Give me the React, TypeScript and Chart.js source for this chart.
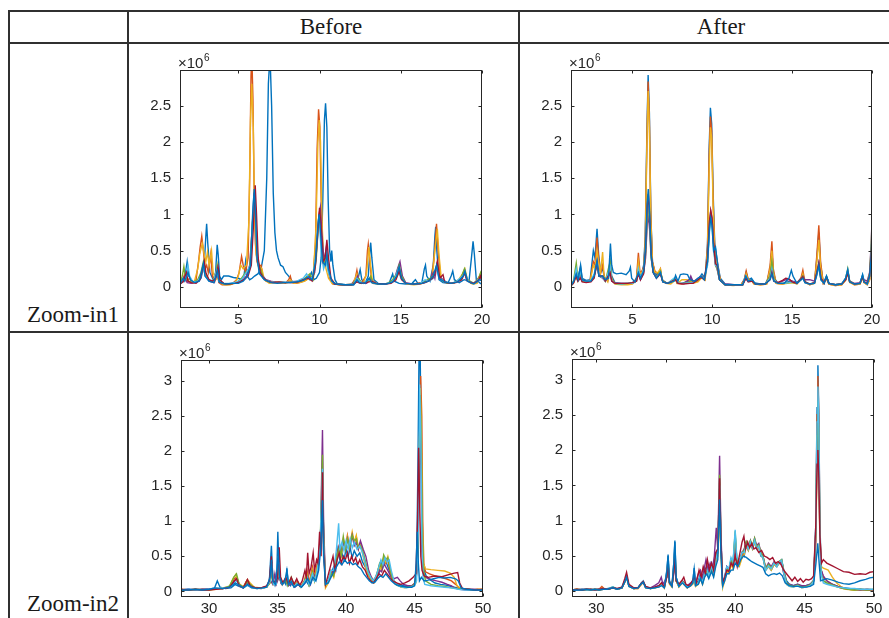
import { useEffect, useRef } from 'react';
import { Chart, registerables } from 'chart.js';

Chart.register(...registerables);

type Pt = [number, number];

// Chromatogram traces, intensity in units of 10^6, x in minutes.
// Series order per panel: blue, orange, yellow, purple, green, light blue, dark red, blue.

// ---------- Zoom-in1, Before ----------
const B1_BLUE: Pt[] = [[1.4,.03],[1.5,.1],[1.6,.08],[1.75,.2],[1.85,.35],[1.95,.15],[2.2,.06],[2.5,.08],[2.7,.12],[2.9,.3],[3.0,.7],[3.05,.87],[3.12,.6],[3.25,.2],[3.45,.1],[3.6,.2],[3.7,.58],[3.76,.45],[3.85,.15],[3.95,.1],[4.1,.15],[4.4,.15],[4.7,.13],[5.0,.12],[5.2,.1],[5.35,.15],[5.45,.35],[5.55,.15],[5.7,.1],[5.85,.12],[6.0,.15],[6.2,.18],[6.4,.25],[6.6,.5],[6.75,1.5],[6.85,2.8],[6.95,3.2],[7.05,2.5],[7.15,1.3],[7.25,.75],[7.35,.5],[7.45,.4],[7.6,.3],[7.75,.28],[7.9,.2],[8.1,.15],[8.3,.08],[8.6,.06],[9.0,.08],[9.2,.12],[9.4,.15],[9.5,.2],[9.65,.1],[9.8,.12],[10.0,.2],[10.1,.4],[10.2,1.2],[10.3,2.3],[10.37,2.53],[10.45,2.2],[10.53,1.2],[10.62,.5],[10.7,.35],[10.75,.5],[10.82,.3],[10.95,.1],[11.1,.04],[11.6,.03],[12.1,.03],[12.35,.1],[12.5,.24],[12.6,.1],[12.8,.05],[13.0,.15],[13.1,.5],[13.15,.61],[13.22,.4],[13.35,.1],[13.6,.05],[14.0,.04],[14.3,.06],[14.5,.18],[14.6,.08],[14.9,.05],[15.3,.04],[15.7,.05],[15.9,.1],[16.05,.05],[16.3,.06],[16.45,.25],[16.52,.3],[16.6,.15],[16.8,.08],[17.0,.3],[17.1,.7],[17.15,.83],[17.22,.5],[17.35,.1],[17.6,.06],[17.9,.05],[18.1,.15],[18.2,.22],[18.3,.1],[18.6,.06],[18.9,.1],[19.2,.08],[19.35,.4],[19.45,.63],[19.53,.45],[19.65,.1],[19.9,.05],[20.0,.04]];
const B1_ORANGE: Pt[] = [[1.4,.04],[1.6,.1],[1.7,.18],[1.8,.08],[2.0,.12],[2.2,.06],[2.4,.1],[2.55,.35],[2.65,.55],[2.75,.7],[2.85,.5],[2.95,.25],[3.05,.3],[3.15,.2],[3.3,.45],[3.4,.15],[3.55,.08],[3.7,.2],[3.8,.06],[4.0,.03],[4.3,.03],[4.6,.04],[4.9,.1],[5.05,.2],[5.2,.42],[5.3,.3],[5.45,.2],[5.6,.4],[5.7,1.5],[5.78,2.9],[5.83,3.2],[5.9,2.6],[5.98,1.2],[6.05,.6],[6.15,.35],[6.25,.28],[6.4,.3],[6.5,.15],[6.7,.08],[7.0,.06],[7.3,.07],[7.6,.06],[7.9,.05],[8.1,.1],[8.2,.15],[8.3,.06],[8.6,.05],[8.9,.07],[9.2,.1],[9.4,.15],[9.6,.12],[9.75,.6],[9.85,1.9],[9.94,2.45],[10.02,2.2],[10.1,1.2],[10.2,.5],[10.3,.3],[10.45,.35],[10.6,.15],[10.8,.05],[11.2,.03],[11.6,.03],[12.0,.04],[12.2,.12],[12.3,.23],[12.4,.1],[12.6,.06],[12.85,.15],[12.95,.5],[13.0,.59],[13.08,.4],[13.2,.1],[13.5,.05],[13.8,.04],[14.2,.05],[14.5,.08],[14.7,.15],[14.9,.25],[15.05,.12],[15.3,.05],[15.7,.04],[16.0,.05],[16.3,.06],[16.6,.08],[16.9,.12],[17.05,.4],[17.2,.87],[17.3,.5],[17.45,.12],[17.7,.08],[18.0,.05],[18.3,.06],[18.6,.1],[18.9,.2],[19.05,.12],[19.3,.05],[19.6,.06],[19.85,.15],[20.0,.1]];
const B1_YELLOW: Pt[] = [[1.4,.05],[1.65,.12],[1.8,.1],[2.0,.07],[2.3,.08],[2.5,.25],[2.62,.45],[2.78,.6],[2.9,.45],[3.0,.35],[3.1,.48],[3.2,.3],[3.35,.5],[3.45,.2],[3.6,.1],[3.75,.12],[3.9,.05],[4.2,.03],[4.5,.03],[4.8,.06],[5.0,.15],[5.15,.3],[5.3,.25],[5.5,.3],[5.65,.9],[5.75,2.3],[5.83,2.8],[5.92,2.2],[6.0,1.0],[6.1,.45],[6.25,.3],[6.45,.25],[6.6,.1],[6.9,.05],[7.2,.06],[7.6,.05],[8.0,.06],[8.2,.1],[8.4,.05],[8.8,.06],[9.1,.08],[9.35,.12],[9.6,.1],[9.78,.8],[9.9,2.0],[9.98,2.3],[10.06,2.0],[10.15,.9],[10.25,.4],[10.4,.25],[10.55,.12],[10.8,.04],[11.3,.03],[11.8,.03],[12.1,.06],[12.3,.18],[12.45,.08],[12.7,.05],[12.9,.2],[13.03,.55],[13.12,.35],[13.25,.08],[13.6,.04],[14.0,.04],[14.4,.06],[14.7,.12],[14.9,.2],[15.1,.1],[15.4,.04],[15.8,.03],[16.2,.04],[16.6,.07],[16.95,.15],[17.1,.5],[17.25,.8],[17.35,.45],[17.5,.1],[17.8,.06],[18.2,.05],[18.5,.08],[18.8,.18],[18.95,.25],[19.1,.1],[19.4,.04],[19.7,.05],[19.9,.18],[20.0,.12]];
const B1_PURPLE: Pt[] = [[1.4,.03],[1.55,.08],[1.7,.15],[1.85,.06],[2.1,.05],[2.4,.07],[2.6,.12],[2.9,.3],[3.0,.15],[3.2,.08],[3.5,.06],[3.7,.18],[3.85,.06],[4.2,.04],[4.6,.05],[5.0,.06],[5.3,.1],[5.5,.15],[5.7,.3],[5.85,.8],[5.97,1.3],[6.05,1.1],[6.15,.5],[6.3,.2],[6.5,.15],[6.7,.1],[7.0,.08],[7.4,.06],[7.8,.06],[8.2,.07],[8.6,.08],[9.0,.1],[9.3,.15],[9.5,.12],[9.7,.2],[9.85,.6],[9.97,1.0],[10.05,1.1],[10.15,.7],[10.28,.35],[10.42,.55],[10.5,.35],[10.65,.12],[10.9,.04],[11.4,.03],[11.9,.03],[12.2,.08],[12.35,.15],[12.5,.06],[12.9,.05],[13.1,.12],[13.3,.05],[13.8,.04],[14.3,.05],[14.6,.1],[14.8,.25],[14.95,.35],[15.1,.15],[15.3,.06],[15.7,.04],[16.1,.04],[16.5,.06],[16.8,.1],[17.0,.2],[17.1,.12],[17.22,.3],[17.35,.15],[17.6,.1],[17.9,.05],[18.3,.06],[18.7,.1],[18.9,.22],[19.05,.1],[19.4,.05],[19.75,.08],[19.9,.15],[20.0,.08]];
const B1_GREEN: Pt[] = [[1.4,.04],[1.55,.15],[1.65,.28],[1.75,.12],[1.95,.08],[2.2,.06],[2.5,.1],[2.7,.2],[2.85,.35],[2.98,.2],[3.15,.1],[3.4,.08],[3.6,.15],[3.7,.3],[3.8,.1],[4.1,.04],[4.5,.04],[4.9,.06],[5.2,.12],[5.45,.2],[5.7,.25],[5.88,.9],[5.99,1.2],[6.08,.9],[6.2,.35],[6.35,.25],[6.55,.12],[6.8,.08],[7.2,.06],[7.6,.07],[8.0,.06],[8.4,.07],[8.8,.08],[9.1,.12],[9.4,.18],[9.6,.1],[9.8,.4],[9.95,.95],[10.02,1.0],[10.12,.6],[10.25,.3],[10.4,.45],[10.5,.3],[10.7,.1],[11.0,.04],[11.5,.03],[12.0,.03],[12.25,.1],[12.4,.12],[12.6,.05],[13.0,.08],[13.15,.15],[13.3,.05],[13.7,.04],[14.2,.05],[14.5,.1],[14.75,.18],[14.9,.3],[15.05,.15],[15.3,.05],[15.8,.04],[16.2,.05],[16.5,.08],[16.8,.12],[17.0,.15],[17.25,.3],[17.4,.12],[17.6,.08],[17.9,.05],[18.3,.06],[18.7,.12],[18.92,.25],[19.1,.1],[19.5,.05],[19.8,.12],[19.92,.2],[20.0,.15]];
const B1_LBLUE: Pt[] = [[1.4,.05],[1.6,.1],[1.75,.12],[1.9,.3],[2.0,.15],[2.2,.07],[2.5,.08],[2.7,.15],[2.85,.3],[2.95,.15],[3.2,.08],[3.5,.1],[3.7,.25],[3.8,.08],[4.1,.05],[4.5,.05],[4.9,.07],[5.2,.1],[5.5,.2],[5.75,.3],[5.88,.9],[5.95,1.25],[6.05,1.0],[6.15,.45],[6.3,.2],[6.6,.1],[7.0,.07],[7.4,.06],[7.8,.07],[8.2,.06],[8.6,.08],[9.0,.12],[9.2,.18],[9.4,.1],[9.6,.15],[9.8,.5],[9.92,.9],[10.0,.85],[10.1,.5],[10.25,.25],[10.4,.35],[10.55,.2],[10.75,.08],[11.0,.04],[11.6,.03],[12.1,.04],[12.3,.12],[12.45,.08],[12.7,.05],[13.0,.1],[13.2,.08],[13.5,.05],[14.0,.04],[14.4,.06],[14.65,.12],[14.85,.25],[15.0,.12],[15.3,.05],[15.8,.04],[16.2,.05],[16.5,.1],[16.75,.08],[17.0,.12],[17.2,.28],[17.35,.12],[17.7,.08],[18.0,.05],[18.4,.07],[18.8,.15],[18.95,.2],[19.15,.08],[19.5,.05],[19.85,.12],[20.0,.1]];
const B1_DRED: Pt[] = [[1.4,.04],[1.6,.07],[1.8,.2],[1.9,.08],[2.1,.06],[2.4,.05],[2.65,.1],[2.9,.35],[3.0,.2],[3.2,.1],[3.4,.08],[3.6,.12],[3.75,.28],[3.85,.1],[4.1,.05],[4.4,.04],[4.8,.05],[5.1,.07],[5.35,.1],[5.6,.15],[5.8,.3],[5.92,.8],[6.04,1.4],[6.12,1.0],[6.22,.4],[6.35,.2],[6.55,.12],[6.8,.08],[7.1,.06],[7.5,.07],[7.9,.06],[8.3,.06],[8.7,.07],[9.0,.1],[9.3,.12],[9.55,.08],[9.75,.3],[9.9,.8],[10.0,1.09],[10.1,.8],[10.22,.35],[10.35,.4],[10.45,.65],[10.55,.4],[10.7,.12],[10.95,.04],[11.5,.03],[12.0,.03],[12.3,.07],[12.5,.05],[12.9,.06],[13.2,.08],[13.5,.05],[14.0,.04],[14.4,.05],[14.7,.1],[14.9,.22],[15.05,.1],[15.3,.05],[15.8,.04],[16.3,.05],[16.7,.08],[16.95,.12],[17.1,.18],[17.25,.35],[17.4,.12],[17.6,.17],[17.7,.07],[18.0,.05],[18.4,.06],[18.75,.1],[18.95,.2],[19.1,.08],[19.5,.05],[19.8,.1],[19.9,.15],[20.0,.06]];
const B1_BLUE2: Pt[] = [[1.4,.03],[1.6,.12],[1.7,.08],[1.9,.2],[2.05,.1],[2.3,.06],[2.6,.08],[2.85,.32],[2.95,.15],[3.2,.08],[3.5,.06],[3.72,.22],[3.82,.07],[4.2,.04],[4.6,.05],[5.0,.05],[5.3,.08],[5.55,.15],[5.75,.3],[5.88,1.0],[5.98,1.35],[6.06,1.0],[6.15,.4],[6.3,.18],[6.6,.1],[7.0,.06],[7.4,.05],[7.8,.06],[8.2,.06],[8.6,.07],[9.0,.09],[9.3,.14],[9.55,.1],[9.75,.35],[9.9,.85],[9.97,1.0],[10.05,.8],[10.18,.35],[10.35,.3],[10.45,.45],[10.55,.25],[10.75,.08],[11.0,.04],[11.6,.03],[12.1,.03],[12.3,.1],[12.45,.06],[12.8,.05],[13.05,.12],[13.2,.06],[13.6,.04],[14.1,.04],[14.5,.07],[14.75,.15],[14.9,.28],[15.05,.12],[15.3,.05],[15.8,.04],[16.3,.05],[16.7,.08],[17.0,.15],[17.2,.3],[17.35,.12],[17.7,.07],[18.1,.05],[18.5,.07],[18.85,.15],[18.95,.22],[19.1,.08],[19.5,.04],[19.85,.1],[20.0,.08]];

// ---------- Zoom-in1, After ----------
const A1_BLUE: Pt[] = [[1.15,.02],[1.3,.07],[1.45,.18],[1.55,.1],[1.75,.28],[1.85,.12],[2.1,.09],[2.35,.1],[2.55,.5],[2.65,.4],[2.78,.8],[2.88,.45],[3.0,.2],[3.13,.25],[3.25,.12],[3.45,.1],[3.6,.35],[3.7,.15],[3.9,.06],[4.3,.05],[4.7,.05],[5.0,.06],[5.25,.1],[5.37,.35],[5.47,.15],[5.6,.2],[5.7,.3],[5.8,.7],[5.9,2.1],[5.98,2.92],[6.06,2.4],[6.15,1.0],[6.25,.35],[6.4,.2],[6.6,.15],[6.75,.22],[6.85,.1],[7.1,.06],[7.4,.05],[7.7,.12],[7.8,.05],[8.1,.05],[8.5,.08],[8.65,.12],[8.8,.07],[9.1,.1],[9.35,.18],[9.55,.12],[9.7,.6],[9.8,1.9],[9.88,2.47],[9.96,2.25],[10.05,1.3],[10.15,.6],[10.25,.45],[10.35,.3],[10.5,.12],[10.8,.04],[11.3,.03],[11.8,.03],[12.0,.1],[12.12,.2],[12.25,.1],[12.45,.12],[12.6,.06],[13.0,.04],[13.4,.05],[13.62,.25],[13.73,.5],[13.82,.2],[14.0,.06],[14.4,.05],[14.7,.07],[15.0,.08],[15.3,.06],[15.55,.1],[15.67,.18],[15.8,.07],[16.1,.04],[16.4,.06],[16.55,.4],[16.67,.75],[16.78,.3],[16.95,.06],[17.15,.14],[17.3,.05],[17.7,.03],[18.1,.04],[18.35,.1],[18.48,.22],[18.6,.08],[18.9,.04],[19.25,.05],[19.41,.16],[19.5,.07],[19.7,.04],[19.85,.12],[19.95,.5],[20.0,.65]];
const A1_ORANGE: Pt[] = [[1.15,.02],[1.3,.06],[1.48,.22],[1.58,.1],[1.75,.2],[1.85,.1],[2.1,.08],[2.35,.09],[2.55,.35],[2.65,.3],[2.78,.68],[2.88,.4],[3.0,.18],[3.13,.3],[3.25,.12],[3.45,.08],[3.6,.3],[3.7,.12],[3.9,.05],[4.3,.04],[4.7,.04],[5.0,.05],[5.25,.12],[5.37,.47],[5.47,.2],[5.6,.22],[5.7,.28],[5.8,.6],[5.9,2.0],[5.98,2.83],[6.06,2.3],[6.15,.95],[6.25,.35],[6.4,.22],[6.6,.18],[6.75,.25],[6.85,.1],[7.1,.05],[7.4,.05],[7.7,.13],[7.8,.05],[8.1,.04],[8.5,.06],[8.65,.1],[8.8,.06],[9.1,.08],[9.35,.15],[9.55,.1],[9.7,.55],[9.8,1.8],[9.88,2.35],[9.96,2.15],[10.05,1.2],[10.15,.55],[10.25,.4],[10.35,.28],[10.5,.1],[10.8,.03],[11.3,.03],[11.8,.03],[12.0,.1],[12.12,.22],[12.25,.1],[12.45,.1],[12.6,.05],[13.0,.03],[13.4,.04],[13.62,.3],[13.73,.63],[13.82,.25],[14.0,.05],[14.4,.04],[14.7,.06],[15.0,.07],[15.3,.05],[15.55,.12],[15.67,.23],[15.8,.07],[16.1,.03],[16.4,.05],[16.55,.45],[16.67,.85],[16.78,.35],[16.95,.05],[17.15,.12],[17.3,.04],[17.7,.02],[18.1,.03],[18.35,.1],[18.48,.2],[18.6,.07],[18.9,.03],[19.25,.04],[19.41,.14],[19.5,.06],[19.7,.03],[19.85,.1],[19.95,.45],[20.0,.7]];
const A1_YELLOW: Pt[] = [[1.15,.02],[1.3,.05],[1.48,.15],[1.58,.08],[1.75,.18],[1.85,.09],[2.1,.07],[2.35,.08],[2.55,.3],[2.65,.25],[2.78,.5],[2.88,.35],[3.0,.2],[3.13,.48],[3.22,.15],[3.45,.07],[3.6,.25],[3.7,.1],[3.9,.04],[4.3,.03],[4.7,.03],[5.0,.04],[5.25,.1],[5.37,.35],[5.47,.18],[5.6,.2],[5.7,.25],[5.8,.55],[5.9,1.9],[5.98,2.7],[6.06,2.2],[6.15,.9],[6.25,.33],[6.4,.2],[6.6,.2],[6.75,.25],[6.85,.1],[7.1,.05],[7.4,.04],[7.7,.1],[7.8,.05],[8.1,.1],[8.4,.1],[8.65,.08],[8.8,.05],[9.1,.07],[9.35,.13],[9.55,.1],[9.7,.5],[9.8,1.6],[9.88,2.2],[9.96,2.05],[10.05,1.1],[10.15,.5],[10.25,.38],[10.35,.25],[10.5,.09],[10.8,.03],[11.3,.02],[11.8,.03],[12.0,.08],[12.12,.18],[12.25,.09],[12.45,.09],[12.6,.04],[13.0,.03],[13.4,.04],[13.62,.25],[13.73,.5],[13.82,.2],[14.0,.05],[14.4,.04],[14.7,.05],[15.0,.06],[15.3,.04],[15.55,.1],[15.67,.18],[15.8,.06],[16.1,.03],[16.4,.05],[16.55,.35],[16.67,.65],[16.78,.28],[16.95,.05],[17.15,.11],[17.3,.04],[17.7,.02],[18.1,.03],[18.35,.09],[18.48,.19],[18.6,.06],[18.9,.03],[19.25,.04],[19.41,.13],[19.5,.06],[19.7,.03],[19.85,.1],[19.95,.4],[20.0,.65]];
const A1_PURPLE: Pt[] = [[1.15,.02],[1.3,.06],[1.48,.2],[1.58,.09],[1.75,.15],[1.85,.08],[2.1,.07],[2.4,.08],[2.6,.15],[2.78,.3],[2.9,.15],[3.13,.12],[3.3,.08],[3.6,.18],[3.7,.08],[3.9,.05],[4.3,.05],[4.7,.05],[5.0,.05],[5.25,.08],[5.37,.2],[5.5,.1],[5.7,.2],[5.82,.4],[5.92,.85],[5.99,1.0],[6.07,.8],[6.17,.4],[6.3,.2],[6.5,.15],[6.75,.2],[6.9,.08],[7.2,.05],[7.7,.1],[7.85,.05],[8.2,.05],[8.55,.1],[8.65,.15],[8.8,.07],[9.1,.12],[9.3,.15],[9.5,.1],[9.7,.35],[9.82,.85],[9.9,1.05],[9.98,.95],[10.08,.6],[10.2,.3],[10.3,.25],[10.45,.1],[10.8,.04],[11.4,.03],[11.9,.03],[12.1,.12],[12.25,.08],[12.5,.08],[12.7,.04],[13.3,.04],[13.62,.15],[13.73,.3],[13.85,.12],[14.1,.06],[14.4,.08],[14.6,.1],[14.8,.1],[15.0,.08],[15.3,.06],[15.67,.15],[15.8,.1],[16.1,.1],[16.4,.08],[16.55,.2],[16.67,.33],[16.8,.12],[17.0,.06],[17.15,.13],[17.3,.05],[17.7,.03],[18.1,.04],[18.35,.1],[18.48,.22],[18.6,.08],[18.9,.05],[19.25,.06],[19.41,.15],[19.5,.1],[19.7,.08],[19.85,.2],[19.95,.6],[20.0,.92]];
const A1_GREEN: Pt[] = [[1.15,.02],[1.3,.08],[1.48,.33],[1.58,.12],[1.75,.2],[1.85,.08],[2.1,.07],[2.4,.08],[2.6,.15],[2.78,.33],[2.9,.15],[3.13,.14],[3.3,.08],[3.6,.35],[3.7,.1],[3.9,.05],[4.3,.04],[4.7,.05],[5.0,.05],[5.25,.08],[5.37,.22],[5.5,.12],[5.7,.22],[5.82,.45],[5.92,.95],[5.99,1.1],[6.07,.9],[6.17,.4],[6.3,.2],[6.5,.14],[6.75,.22],[6.9,.08],[7.2,.05],[7.7,.12],[7.85,.05],[8.2,.05],[8.6,.07],[8.8,.06],[9.1,.1],[9.3,.14],[9.5,.1],[9.7,.35],[9.82,.8],[9.9,1.0],[9.98,.9],[10.08,.55],[10.2,.3],[10.3,.25],[10.45,.1],[10.8,.03],[11.4,.03],[11.9,.03],[12.1,.14],[12.25,.08],[12.5,.09],[12.7,.04],[13.3,.04],[13.62,.15],[13.73,.35],[13.85,.12],[14.1,.05],[14.5,.05],[14.8,.06],[15.0,.06],[15.3,.05],[15.67,.15],[15.8,.07],[16.1,.04],[16.4,.06],[16.55,.18],[16.67,.3],[16.8,.1],[17.0,.05],[17.15,.14],[17.3,.05],[17.7,.03],[18.1,.04],[18.35,.12],[18.48,.25],[18.6,.08],[18.9,.04],[19.25,.05],[19.41,.15],[19.5,.07],[19.7,.05],[19.85,.18],[19.95,.55],[20.0,.88]];
const A1_LBLUE: Pt[] = [[1.15,.02],[1.3,.07],[1.48,.25],[1.58,.1],[1.75,.22],[1.85,.09],[2.1,.08],[2.4,.09],[2.6,.18],[2.78,.35],[2.9,.16],[3.13,.13],[3.3,.08],[3.6,.28],[3.7,.09],[3.9,.05],[4.3,.04],[4.7,.05],[5.0,.05],[5.25,.08],[5.37,.25],[5.5,.12],[5.7,.25],[5.82,.5],[5.92,1.05],[5.99,1.2],[6.07,.95],[6.17,.42],[6.3,.2],[6.5,.13],[6.75,.2],[6.9,.07],[7.2,.05],[7.7,.14],[7.85,.05],[8.2,.05],[8.6,.06],[8.8,.06],[9.1,.1],[9.3,.15],[9.5,.1],[9.7,.3],[9.82,.75],[9.9,.95],[9.98,.85],[10.08,.5],[10.2,.3],[10.3,.28],[10.45,.1],[10.8,.03],[11.4,.03],[11.9,.03],[12.1,.15],[12.25,.08],[12.5,.1],[12.7,.04],[13.3,.04],[13.62,.12],[13.73,.25],[13.85,.1],[14.1,.05],[14.5,.05],[14.8,.06],[15.0,.07],[15.3,.05],[15.67,.13],[15.8,.06],[16.1,.04],[16.4,.06],[16.55,.16],[16.67,.28],[16.8,.1],[17.0,.05],[17.15,.15],[17.3,.05],[17.7,.03],[18.1,.04],[18.35,.12],[18.48,.23],[18.6,.07],[18.9,.04],[19.25,.05],[19.41,.17],[19.5,.07],[19.7,.04],[19.85,.15],[19.95,.45],[20.0,.75]];
const A1_DRED: Pt[] = [[1.15,.02],[1.3,.05],[1.48,.15],[1.58,.08],[1.75,.12],[1.85,.07],[2.1,.06],[2.4,.07],[2.6,.12],[2.78,.35],[2.9,.15],[3.13,.15],[3.3,.08],[3.6,.2],[3.7,.08],[3.9,.05],[4.3,.05],[4.7,.05],[5.0,.06],[5.25,.08],[5.37,.18],[5.5,.1],[5.7,.18],[5.82,.5],[5.92,1.1],[5.99,1.28],[6.07,1.0],[6.17,.45],[6.3,.2],[6.5,.12],[6.75,.18],[6.9,.07],[7.2,.05],[7.7,.1],[7.85,.05],[8.2,.04],[8.6,.05],[8.8,.05],[9.1,.1],[9.3,.13],[9.5,.1],[9.7,.4],[9.82,.9],[9.9,1.05],[9.98,.95],[10.08,.6],[10.2,.32],[10.3,.3],[10.45,.1],[10.8,.03],[11.4,.03],[11.9,.03],[12.1,.12],[12.25,.07],[12.5,.08],[12.7,.04],[13.3,.04],[13.62,.1],[13.73,.2],[13.85,.08],[14.1,.06],[14.4,.09],[14.6,.12],[14.8,.11],[15.0,.07],[15.3,.05],[15.67,.14],[15.8,.07],[16.1,.04],[16.4,.06],[16.55,.2],[16.67,.33],[16.8,.12],[17.0,.05],[17.15,.14],[17.3,.05],[17.7,.03],[18.1,.04],[18.35,.1],[18.48,.2],[18.6,.07],[18.9,.04],[19.25,.05],[19.41,.14],[19.5,.07],[19.7,.05],[19.85,.15],[19.95,.45],[20.0,.62]];
const A1_BLUE2: Pt[] = [[1.15,.02],[1.3,.07],[1.48,.18],[1.6,.1],[1.75,.3],[1.85,.1],[2.1,.08],[2.4,.08],[2.6,.15],[2.78,.36],[2.9,.15],[3.13,.15],[3.3,.1],[3.5,.12],[3.62,.6],[3.7,.3],[3.8,.2],[4.0,.18],[4.3,.19],[4.6,.17],[4.8,.22],[4.87,.27],[4.95,.12],[5.15,.07],[5.37,.2],[5.5,.12],[5.7,.22],[5.82,.55],[5.92,1.15],[5.99,1.35],[6.07,1.05],[6.17,.45],[6.3,.2],[6.5,.12],[6.75,.2],[6.9,.07],[7.2,.05],[7.6,.08],[7.7,.16],[7.85,.08],[8.0,.17],[8.2,.18],[8.45,.17],[8.6,.1],[8.9,.08],[9.1,.12],[9.3,.15],[9.5,.1],[9.7,.35],[9.82,.8],[9.9,.95],[9.98,.85],[10.08,.5],[10.2,.55],[10.28,.4],[10.45,.1],[10.8,.03],[11.4,.03],[11.9,.03],[12.1,.15],[12.25,.08],[12.5,.1],[12.7,.04],[13.3,.04],[13.62,.1],[13.73,.18],[13.85,.08],[14.1,.05],[14.5,.05],[14.8,.12],[14.95,.23],[15.05,.15],[15.3,.05],[15.67,.12],[15.8,.06],[16.1,.04],[16.4,.05],[16.55,.18],[16.67,.3],[16.8,.1],[17.0,.05],[17.15,.15],[17.3,.05],[17.7,.03],[18.1,.04],[18.35,.12],[18.48,.24],[18.6,.07],[18.9,.04],[19.25,.05],[19.41,.17],[19.5,.07],[19.7,.04],[19.85,.15],[19.95,.4],[20.0,.6]];

// ---------- Zoom-in2, Before ----------
const B2_BLUE: Pt[] = [[27.95,.02],[28.5,.03],[29.0,.02],[29.5,.03],[30.0,.03],[30.4,.05],[30.6,.15],[30.8,.06],[31.2,.04],[31.6,.05],[31.9,.1],[32.1,.08],[32.5,.05],[32.8,.09],[33.1,.05],[33.5,.04],[33.9,.05],[34.2,.06],[34.4,.15],[34.55,.65],[34.65,.2],[34.8,.1],[34.95,.3],[35.02,.85],[35.1,.3],[35.25,.12],[35.45,.15],[35.6,.1],[35.68,.33],[35.78,.12],[35.95,.08],[36.1,.15],[36.3,.07],[36.5,.12],[36.7,.06],[36.9,.1],[37.1,.15],[37.3,.08],[37.5,.2],[37.7,.15],[37.9,.25],[38.05,.5],[38.2,.9],[38.3,1.5],[38.38,.6],[38.5,.12],[38.7,.15],[38.9,.25],[39.1,.35],[39.25,.3],[39.4,.6],[39.55,.45],[39.7,.55],[39.85,.45],[40.0,.6],[40.15,.5],[40.3,.62],[40.45,.48],[40.6,.58],[40.8,.5],[41.0,.55],[41.2,.42],[41.4,.35],[41.6,.25],[41.8,.2],[42.0,.15],[42.2,.2],[42.4,.25],[42.55,.42],[42.7,.35],[42.85,.45],[43.0,.38],[43.15,.3],[43.35,.2],[43.6,.12],[43.9,.1],[44.2,.08],[44.5,.07],[44.8,.08],[45.0,.1],[45.15,.3],[45.25,1.8],[45.33,3.4],[45.42,3.3],[45.5,1.5],[45.58,.5],[45.7,.3],[45.85,.22],[46.1,.17],[46.5,.12],[46.9,.1],[47.3,.09],[47.7,.07],[48.1,.05],[48.5,.03],[49.0,.03],[49.5,.02],[50.0,.02]];
const B2_ORANGE: Pt[] = [[27.95,.02],[28.5,.02],[29.0,.03],[29.5,.02],[30.0,.03],[30.5,.04],[31.0,.04],[31.5,.06],[31.85,.18],[32.0,.2],[32.2,.1],[32.5,.06],[32.75,.15],[32.95,.1],[33.3,.05],[33.8,.04],[34.2,.06],[34.45,.15],[34.6,.35],[34.7,.12],[34.9,.1],[35.05,.4],[35.15,.25],[35.35,.1],[35.6,.2],[35.75,.1],[36.0,.18],[36.2,.08],[36.45,.15],[36.7,.07],[36.95,.15],[37.15,.3],[37.3,.12],[37.55,.35],[37.7,.18],[37.9,.4],[38.1,.6],[38.28,1.6],[38.36,.8],[38.5,.1],[38.7,.15],[38.9,.3],[39.1,.25],[39.3,.5],[39.5,.65],[39.65,.55],[39.8,.75],[39.95,.6],[40.1,.8],[40.25,.65],[40.45,.82],[40.6,.68],[40.75,.78],[40.9,.62],[41.05,.7],[41.25,.55],[41.45,.35],[41.65,.25],[41.85,.2],[42.05,.15],[42.25,.25],[42.45,.38],[42.6,.32],[42.75,.48],[42.9,.4],[43.05,.45],[43.2,.3],[43.4,.15],[43.7,.1],[44.0,.07],[44.3,.06],[44.6,.07],[44.9,.09],[45.1,.15],[45.25,.6],[45.35,2.0],[45.45,3.07],[45.53,2.5],[45.6,1.0],[45.68,.4],[45.8,.28],[46.1,.25],[46.5,.22],[46.9,.2],[47.3,.18],[47.7,.15],[48.0,.1],[48.3,.04],[48.7,.03],[49.2,.02],[49.6,.03],[50.0,.02]];
const B2_YELLOW: Pt[] = [[27.95,.03],[28.5,.02],[29.0,.02],[29.5,.03],[30.0,.02],[30.5,.03],[31.0,.05],[31.5,.07],[31.8,.2],[31.95,.24],[32.15,.12],[32.5,.06],[32.8,.17],[33.0,.12],[33.3,.06],[33.8,.05],[34.2,.06],[34.45,.12],[34.6,.3],[34.7,.1],[34.9,.12],[35.05,.35],[35.15,.2],[35.35,.1],[35.6,.18],[35.75,.1],[36.0,.15],[36.2,.07],[36.45,.13],[36.7,.06],[36.95,.12],[37.15,.25],[37.3,.1],[37.55,.3],[37.7,.15],[37.9,.35],[38.1,.55],[38.28,1.7],[38.36,.7],[38.5,.05],[38.7,.12],[38.9,.28],[39.1,.2],[39.3,.45],[39.5,.6],[39.65,.5],[39.8,.72],[39.95,.62],[40.1,.78],[40.25,.62],[40.45,.85],[40.6,.7],[40.75,.8],[40.9,.6],[41.05,.68],[41.25,.5],[41.45,.32],[41.65,.22],[41.85,.15],[42.05,.12],[42.25,.22],[42.45,.35],[42.6,.3],[42.75,.5],[42.9,.42],[43.05,.5],[43.2,.35],[43.4,.18],[43.7,.1],[44.0,.06],[44.3,.05],[44.6,.06],[44.9,.08],[45.1,.12],[45.25,.5],[45.35,1.8],[45.42,2.9],[45.5,2.2],[45.58,.9],[45.66,.4],[45.8,.32],[46.2,.31],[46.7,.3],[47.2,.29],[47.6,.26],[47.9,.2],[48.1,.08],[48.4,.04],[48.8,.03],[49.3,.02],[49.7,.03],[50.0,.03]];
const B2_PURPLE: Pt[] = [[27.95,.02],[28.5,.03],[29.0,.02],[29.5,.03],[30.0,.03],[30.5,.04],[31.0,.04],[31.5,.06],[31.85,.15],[32.05,.18],[32.2,.08],[32.5,.05],[32.8,.12],[33.0,.08],[33.4,.05],[33.8,.05],[34.2,.07],[34.5,.15],[34.65,.1],[34.8,.25],[34.9,.1],[35.1,.2],[35.3,.1],[35.6,.15],[35.8,.08],[36.0,.12],[36.25,.06],[36.5,.1],[36.75,.07],[37.0,.12],[37.2,.2],[37.4,.1],[37.6,.25],[37.8,.2],[37.95,.3],[38.15,.9],[38.28,2.3],[38.36,1.0],[38.5,.12],[38.7,.15],[38.9,.25],[39.1,.3],[39.3,.5],[39.5,.65],[39.65,.55],[39.8,.7],[39.95,.6],[40.1,.75],[40.25,.6],[40.45,.8],[40.6,.65],[40.75,.7],[40.9,.6],[41.05,.72],[41.25,.6],[41.45,.5],[41.65,.3],[41.85,.2],[42.05,.15],[42.25,.2],[42.45,.3],[42.6,.28],[42.75,.4],[42.9,.35],[43.05,.3],[43.25,.22],[43.5,.18],[43.75,.2],[43.95,.15],[44.2,.1],[44.5,.08],[44.8,.08],[45.05,.12],[45.2,.3],[45.3,1.2],[45.4,2.2],[45.48,1.8],[45.56,.6],[45.65,.25],[45.8,.2],[46.2,.17],[46.6,.15],[47.0,.13],[47.4,.1],[47.7,.08],[47.9,.05],[48.3,.03],[48.8,.02],[49.3,.03],[50.0,.02]];
const B2_GREEN: Pt[] = [[27.95,.02],[28.5,.02],[29.0,.03],[29.5,.02],[30.0,.02],[30.5,.04],[31.0,.04],[31.5,.08],[31.8,.2],[32.0,.25],[32.2,.1],[32.5,.06],[32.8,.14],[33.0,.1],[33.3,.05],[33.8,.05],[34.2,.06],[34.45,.12],[34.6,.28],[34.7,.1],[34.9,.12],[35.05,.3],[35.15,.18],[35.35,.1],[35.6,.16],[35.75,.08],[36.0,.2],[36.2,.08],[36.45,.12],[36.7,.06],[36.95,.14],[37.15,.22],[37.3,.1],[37.55,.28],[37.7,.15],[37.9,.3],[38.1,.6],[38.28,1.95],[38.36,.8],[38.5,.1],[38.7,.14],[38.9,.26],[39.1,.22],[39.3,.48],[39.5,.62],[39.65,.52],[39.8,.78],[39.95,.6],[40.1,.75],[40.25,.62],[40.45,.8],[40.6,.72],[40.75,.75],[40.9,.62],[41.05,.65],[41.25,.55],[41.45,.4],[41.65,.25],[41.85,.18],[42.05,.14],[42.25,.24],[42.45,.4],[42.6,.35],[42.75,.52],[42.9,.45],[43.05,.48],[43.2,.33],[43.4,.16],[43.7,.09],[44.0,.07],[44.3,.06],[44.6,.06],[44.9,.08],[45.1,.14],[45.25,.6],[45.35,2.0],[45.42,2.8],[45.5,2.0],[45.58,.8],[45.66,.3],[45.8,.15],[46.2,.1],[46.7,.08],[47.2,.07],[47.7,.05],[48.2,.04],[48.7,.03],[49.3,.02],[50.0,.02]];
const B2_LBLUE: Pt[] = [[27.95,.02],[28.5,.03],[29.0,.02],[29.5,.02],[30.0,.03],[30.5,.04],[31.0,.05],[31.5,.06],[31.85,.12],[32.05,.15],[32.2,.08],[32.5,.05],[32.8,.1],[33.0,.07],[33.3,.05],[33.8,.04],[34.2,.06],[34.45,.14],[34.58,.4],[34.7,.1],[34.9,.1],[35.03,.5],[35.15,.2],[35.35,.1],[35.6,.2],[35.7,.25],[35.8,.1],[36.0,.15],[36.2,.07],[36.45,.12],[36.7,.06],[36.95,.13],[37.15,.2],[37.3,.1],[37.55,.25],[37.7,.15],[37.9,.3],[38.1,.6],[38.28,1.75],[38.36,.7],[38.5,.1],[38.7,.15],[38.9,.3],[39.1,.3],[39.3,.6],[39.46,.97],[39.55,.6],[39.7,.7],[39.85,.58],[40.0,.72],[40.15,.6],[40.3,.75],[40.45,.62],[40.6,.7],[40.8,.6],[41.0,.65],[41.2,.55],[41.4,.4],[41.6,.28],[41.8,.2],[42.0,.15],[42.2,.22],[42.4,.35],[42.55,.45],[42.7,.38],[42.85,.48],[43.0,.42],[43.15,.45],[43.3,.3],[43.5,.15],[43.8,.08],[44.1,.06],[44.4,.05],[44.7,.06],[45.0,.08],[45.15,.15],[45.28,.9],[45.38,2.95],[45.46,2.2],[45.54,.7],[45.62,.2],[45.75,.1],[46.2,.08],[46.7,.07],[47.2,.06],[47.7,.05],[48.2,.03],[48.7,.02],[49.3,.02],[50.0,.02]];
const B2_DRED: Pt[] = [[27.95,.03],[28.5,.02],[29.0,.03],[29.5,.02],[30.0,.02],[30.5,.03],[31.0,.04],[31.5,.06],[31.85,.15],[32.0,.18],[32.2,.08],[32.5,.05],[32.8,.17],[33.0,.08],[33.4,.05],[33.8,.05],[34.2,.08],[34.4,.15],[34.55,.5],[34.65,.15],[34.85,.12],[35.0,.2],[35.12,.63],[35.22,.2],[35.4,.12],[35.6,.2],[35.8,.1],[36.0,.2],[36.2,.1],[36.4,.18],[36.6,.08],[36.8,.15],[37.0,.3],[37.1,.2],[37.2,.55],[37.3,.25],[37.45,.35],[37.6,.55],[37.7,.3],[37.85,.45],[37.95,.4],[38.07,.85],[38.18,.5],[38.28,1.7],[38.36,.6],[38.5,.1],[38.65,.2],[38.85,.35],[39.05,.5],[39.2,.3],[39.35,.45],[39.5,.55],[39.65,.4],[39.8,.5],[39.95,.45],[40.1,.55],[40.25,.4],[40.4,.5],[40.55,.42],[40.7,.48],[40.85,.38],[41.0,.45],[41.2,.35],[41.4,.3],[41.6,.2],[41.8,.15],[42.0,.12],[42.2,.18],[42.4,.25],[42.6,.22],[42.8,.3],[43.0,.25],[43.2,.2],[43.4,.15],[43.7,.12],[44.0,.1],[44.3,.12],[44.6,.15],[44.9,.2],[45.1,.25],[45.22,1.0],[45.3,2.05],[45.38,1.2],[45.46,.5],[45.55,.3],[45.7,.22],[46.0,.2],[46.5,.22],[47.0,.21],[47.5,.24],[47.9,.26],[48.15,.27],[48.3,.12],[48.5,.04],[49.0,.03],[49.5,.02],[50.0,.03]];
const B2_BLUE2: Pt[] = [[27.95,.02],[28.5,.02],[29.0,.03],[29.5,.02],[30.0,.03],[30.5,.05],[31.0,.04],[31.5,.06],[31.9,.12],[32.1,.1],[32.5,.05],[32.8,.1],[33.1,.06],[33.5,.04],[33.9,.05],[34.2,.06],[34.45,.2],[34.55,.45],[34.65,.15],[34.85,.1],[35.0,.4],[35.05,.6],[35.15,.2],[35.35,.1],[35.55,.15],[35.68,.3],[35.8,.1],[36.0,.14],[36.2,.06],[36.5,.1],[36.75,.06],[37.0,.12],[37.2,.18],[37.4,.1],[37.6,.2],[37.8,.15],[38.0,.3],[38.15,.6],[38.28,1.3],[38.36,.5],[38.5,.1],[38.7,.12],[38.9,.2],[39.1,.28],[39.3,.35],[39.5,.42],[39.7,.38],[39.9,.45],[40.1,.4],[40.3,.42],[40.5,.38],[40.7,.4],[40.9,.35],[41.1,.32],[41.3,.25],[41.5,.2],[41.7,.15],[41.9,.12],[42.1,.13],[42.3,.18],[42.5,.22],[42.7,.2],[42.9,.25],[43.1,.2],[43.3,.15],[43.6,.1],[43.9,.08],[44.2,.07],[44.5,.06],[44.8,.06],[45.0,.08],[45.12,.4],[45.2,.85],[45.28,.4],[45.36,.15],[45.5,.2],[45.7,.15],[46.0,.16],[46.4,.18],[46.8,.2],[47.2,.19],[47.6,.2],[48.0,.18],[48.2,.15],[48.4,.05],[48.8,.03],[49.3,.02],[50.0,.02]];

// ---------- Zoom-in2, After ----------
const A2_BLUE: Pt[] = [[28.25,.02],[28.6,.02],[29.0,.03],[29.3,.02],[29.6,.03],[29.9,.02],[30.2,.03],[30.5,.04],[30.8,.03],[31.2,.06],[31.5,.03],[31.85,.06],[32.05,.15],[32.18,.2],[32.35,.08],[32.7,.04],[33.0,.05],[33.25,.12],[33.38,.14],[33.55,.06],[33.9,.04],[34.2,.06],[34.5,.08],[34.7,.1],[34.9,.06],[35.08,.3],[35.17,.5],[35.27,.15],[35.45,.08],[35.58,.4],[35.66,.7],[35.75,.2],[35.95,.08],[36.2,.15],[36.35,.12],[36.55,.06],[36.8,.1],[36.95,.15],[37.05,.32],[37.15,.1],[37.35,.15],[37.5,.25],[37.65,.15],[37.8,.3],[37.95,.35],[38.1,.25],[38.3,.4],[38.45,.3],[38.6,.5],[38.75,.6],[38.88,1.45],[38.98,.7],[39.1,.1],[39.25,.2],[39.4,.35],[39.55,.3],[39.7,.45],[39.85,.4],[40.0,.8],[40.12,.45],[40.3,.4],[40.5,.55],[40.65,.5],[40.8,.65],[40.95,.58],[41.1,.68],[41.25,.6],[41.4,.7],[41.55,.6],[41.7,.62],[41.85,.5],[42.0,.48],[42.2,.3],[42.4,.35],[42.6,.3],[42.8,.38],[43.0,.35],[43.2,.42],[43.35,.45],[43.5,.3],[43.7,.15],[43.9,.1],[44.2,.08],[44.5,.1],[44.8,.07],[45.1,.08],[45.4,.1],[45.65,.15],[45.8,.9],[45.9,2.6],[45.96,3.2],[46.03,2.5],[46.1,1.0],[46.2,.3],[46.35,.15],[46.6,.12],[47.0,.1],[47.4,.07],[47.8,.05],[48.2,.04],[48.6,.03],[49.0,.03],[49.5,.02],[50.0,.02]];
const A2_ORANGE: Pt[] = [[28.25,.02],[28.6,.03],[29.0,.02],[29.3,.03],[29.6,.02],[29.9,.03],[30.2,.03],[30.4,.07],[30.6,.03],[30.9,.03],[31.2,.05],[31.5,.03],[31.85,.05],[32.05,.14],[32.18,.22],[32.35,.08],[32.7,.04],[33.0,.04],[33.25,.1],[33.38,.14],[33.55,.06],[33.9,.04],[34.2,.05],[34.5,.07],[34.7,.12],[34.9,.05],[35.08,.25],[35.17,.45],[35.27,.12],[35.45,.07],[35.58,.35],[35.66,.6],[35.75,.18],[35.95,.07],[36.2,.13],[36.35,.1],[36.55,.05],[36.8,.08],[36.95,.12],[37.05,.25],[37.15,.08],[37.35,.12],[37.5,.2],[37.65,.12],[37.8,.25],[37.95,.3],[38.1,.22],[38.3,.35],[38.45,.25],[38.6,.45],[38.75,.55],[38.88,1.2],[38.98,.6],[39.1,.08],[39.25,.18],[39.4,.3],[39.55,.28],[39.7,.4],[39.85,.35],[40.0,.7],[40.12,.4],[40.3,.38],[40.5,.5],[40.65,.55],[40.8,.68],[40.95,.6],[41.1,.7],[41.25,.62],[41.4,.72],[41.55,.62],[41.7,.65],[41.85,.55],[42.0,.5],[42.2,.32],[42.4,.38],[42.6,.32],[42.8,.4],[43.0,.36],[43.2,.42],[43.35,.44],[43.5,.28],[43.7,.12],[43.9,.08],[44.2,.07],[44.5,.09],[44.8,.06],[45.1,.07],[45.4,.09],[45.65,.15],[45.8,.8],[45.9,2.5],[45.96,3.05],[46.03,2.4],[46.1,.9],[46.2,.3],[46.35,.2],[46.6,.15],[47.0,.1],[47.4,.06],[47.8,.04],[48.2,.03],[48.6,.02],[49.0,.03],[49.5,.02],[50.0,.02]];
const A2_YELLOW: Pt[] = [[28.25,.02],[28.6,.02],[29.0,.03],[29.3,.02],[29.6,.03],[29.9,.02],[30.2,.02],[30.5,.04],[30.8,.03],[31.2,.05],[31.5,.03],[31.85,.05],[32.05,.13],[32.18,.2],[32.35,.07],[32.7,.04],[33.0,.04],[33.25,.1],[33.38,.13],[33.55,.05],[33.9,.04],[34.2,.05],[34.5,.06],[34.7,.1],[34.9,.05],[35.08,.22],[35.17,.42],[35.27,.1],[35.45,.06],[35.58,.3],[35.66,.55],[35.75,.15],[35.95,.06],[36.2,.12],[36.35,.09],[36.55,.05],[36.8,.08],[36.95,.1],[37.05,.22],[37.15,.07],[37.35,.1],[37.5,.18],[37.65,.1],[37.8,.22],[37.95,.28],[38.1,.2],[38.3,.3],[38.45,.22],[38.6,.4],[38.75,.5],[38.88,1.1],[38.98,.5],[39.1,.05],[39.25,.15],[39.4,.28],[39.55,.25],[39.7,.38],[39.85,.32],[40.0,.65],[40.12,.38],[40.3,.35],[40.5,.48],[40.65,.52],[40.8,.65],[40.95,.58],[41.1,.68],[41.25,.6],[41.4,.7],[41.55,.6],[41.7,.62],[41.85,.52],[42.0,.48],[42.2,.3],[42.4,.35],[42.6,.3],[42.8,.38],[43.0,.35],[43.2,.4],[43.35,.42],[43.5,.26],[43.7,.1],[43.9,.07],[44.2,.06],[44.5,.08],[44.8,.05],[45.1,.06],[45.4,.08],[45.65,.14],[45.8,.6],[45.9,1.8],[45.96,2.3],[46.03,1.8],[46.1,.7],[46.2,.35],[46.35,.33],[46.7,.3],[47.0,.2],[47.3,.12],[47.6,.07],[48.0,.03],[48.5,.02],[49.0,.02],[49.5,.03],[50.0,.02]];
const A2_PURPLE: Pt[] = [[28.25,.02],[28.6,.02],[29.0,.03],[29.3,.03],[29.6,.02],[29.9,.03],[30.2,.02],[30.5,.03],[30.8,.03],[31.2,.05],[31.5,.03],[31.85,.05],[32.05,.14],[32.18,.22],[32.35,.08],[32.7,.04],[33.0,.05],[33.25,.11],[33.38,.13],[33.55,.06],[33.9,.05],[34.2,.08],[34.5,.12],[34.68,.2],[34.8,.1],[35.08,.2],[35.17,.35],[35.27,.12],[35.45,.08],[35.58,.25],[35.66,.45],[35.75,.15],[35.95,.08],[36.2,.15],[36.35,.12],[36.55,.08],[36.8,.12],[36.95,.15],[37.05,.2],[37.2,.15],[37.35,.25],[37.5,.3],[37.65,.2],[37.8,.35],[37.9,.45],[38.05,.3],[38.2,.4],[38.35,.3],[38.5,.5],[38.64,.9],[38.75,.6],[38.88,1.92],[38.98,.8],[39.1,.1],[39.25,.2],[39.4,.35],[39.55,.3],[39.7,.42],[39.85,.38],[40.0,.6],[40.12,.4],[40.3,.42],[40.5,.55],[40.65,.6],[40.8,.7],[40.95,.62],[41.1,.72],[41.25,.62],[41.4,.75],[41.55,.65],[41.7,.68],[41.85,.55],[42.0,.5],[42.2,.33],[42.4,.4],[42.6,.35],[42.8,.42],[43.0,.38],[43.2,.42],[43.35,.4],[43.5,.25],[43.7,.12],[43.9,.1],[44.2,.08],[44.5,.1],[44.8,.08],[45.1,.08],[45.4,.1],[45.65,.15],[45.8,.7],[45.9,2.0],[45.96,2.5],[46.03,1.9],[46.1,.8],[46.2,.3],[46.35,.22],[46.6,.15],[47.0,.1],[47.4,.07],[47.8,.05],[48.2,.03],[48.6,.03],[49.0,.02],[49.5,.03],[50.0,.02]];
const A2_GREEN: Pt[] = [[28.25,.02],[28.6,.03],[29.0,.02],[29.3,.03],[29.6,.02],[29.9,.03],[30.2,.02],[30.5,.03],[30.8,.03],[31.2,.06],[31.5,.03],[31.85,.05],[32.05,.14],[32.18,.21],[32.35,.08],[32.7,.04],[33.0,.05],[33.25,.11],[33.38,.14],[33.55,.06],[33.9,.04],[34.2,.05],[34.5,.07],[34.7,.1],[34.9,.05],[35.08,.22],[35.17,.4],[35.27,.12],[35.45,.07],[35.58,.3],[35.66,.55],[35.75,.15],[35.95,.07],[36.2,.14],[36.35,.11],[36.55,.06],[36.8,.09],[36.95,.12],[37.05,.2],[37.15,.08],[37.35,.12],[37.5,.2],[37.65,.12],[37.8,.25],[37.95,.3],[38.1,.22],[38.3,.35],[38.45,.25],[38.6,.45],[38.75,.55],[38.88,1.65],[38.98,.7],[39.1,.08],[39.25,.18],[39.4,.32],[39.55,.3],[39.7,.45],[39.85,.4],[40.0,.85],[40.12,.45],[40.3,.4],[40.5,.55],[40.65,.58],[40.8,.7],[40.95,.62],[41.1,.72],[41.25,.65],[41.4,.75],[41.55,.62],[41.7,.66],[41.85,.55],[42.0,.5],[42.2,.32],[42.4,.38],[42.6,.33],[42.8,.4],[43.0,.36],[43.2,.43],[43.35,.45],[43.5,.28],[43.7,.12],[43.9,.09],[44.2,.07],[44.5,.09],[44.8,.06],[45.1,.07],[45.4,.09],[45.65,.15],[45.8,.8],[45.9,2.2],[45.96,2.7],[46.03,2.1],[46.1,.8],[46.2,.25],[46.35,.15],[46.6,.12],[47.0,.09],[47.4,.06],[47.8,.04],[48.2,.03],[48.6,.02],[49.0,.03],[49.5,.02],[50.0,.03]];
const A2_LBLUE: Pt[] = [[28.25,.02],[28.6,.02],[29.0,.03],[29.3,.02],[29.6,.03],[29.9,.02],[30.2,.03],[30.5,.03],[30.8,.04],[31.2,.06],[31.5,.03],[31.85,.06],[32.05,.15],[32.18,.2],[32.35,.08],[32.7,.04],[33.0,.05],[33.25,.12],[33.38,.15],[33.55,.06],[33.9,.04],[34.2,.05],[34.5,.07],[34.7,.09],[34.9,.05],[35.08,.25],[35.17,.45],[35.27,.12],[35.45,.07],[35.58,.33],[35.66,.62],[35.75,.17],[35.95,.07],[36.2,.13],[36.35,.1],[36.55,.06],[36.8,.09],[36.95,.12],[37.05,.25],[37.15,.08],[37.35,.12],[37.5,.22],[37.65,.12],[37.8,.26],[37.95,.32],[38.1,.22],[38.3,.35],[38.45,.27],[38.6,.45],[38.75,.55],[38.88,1.5],[38.98,.65],[39.1,.08],[39.25,.2],[39.4,.35],[39.55,.32],[39.7,.48],[39.85,.42],[40.0,.87],[40.12,.48],[40.3,.42],[40.5,.55],[40.65,.55],[40.8,.66],[40.95,.6],[41.1,.7],[41.25,.62],[41.4,.72],[41.55,.6],[41.7,.64],[41.85,.52],[42.0,.48],[42.2,.3],[42.4,.36],[42.6,.32],[42.8,.4],[43.0,.35],[43.2,.42],[43.35,.44],[43.5,.26],[43.7,.1],[43.9,.07],[44.2,.06],[44.5,.08],[44.8,.05],[45.1,.06],[45.4,.08],[45.65,.14],[45.8,.85],[45.9,2.4],[45.96,2.9],[46.03,2.3],[46.1,.8],[46.2,.25],[46.35,.12],[46.6,.1],[47.0,.08],[47.4,.06],[47.8,.05],[48.2,.04],[48.6,.04],[49.0,.03],[49.5,.03],[50.0,.03]];
const A2_DRED: Pt[] = [[28.25,.02],[28.6,.03],[29.0,.02],[29.3,.03],[29.6,.03],[29.9,.02],[30.2,.03],[30.5,.04],[30.8,.03],[31.2,.05],[31.5,.04],[31.85,.06],[32.05,.18],[32.18,.27],[32.35,.1],[32.7,.05],[33.0,.05],[33.25,.12],[33.38,.14],[33.55,.07],[33.9,.05],[34.2,.06],[34.5,.08],[34.7,.12],[34.9,.06],[35.08,.2],[35.17,.38],[35.27,.12],[35.45,.08],[35.58,.28],[35.66,.5],[35.75,.15],[35.95,.1],[36.15,.15],[36.3,.2],[36.45,.1],[36.65,.08],[36.85,.12],[37.05,.2],[37.2,.12],[37.4,.3],[37.55,.2],[37.7,.35],[37.85,.25],[38.0,.45],[38.15,.3],[38.3,.4],[38.45,.3],[38.6,.55],[38.75,.6],[38.88,1.6],[38.98,.7],[39.1,.12],[39.25,.2],[39.4,.3],[39.55,.28],[39.7,.4],[39.85,.35],[40.0,.5],[40.15,.35],[40.3,.5],[40.5,.7],[40.63,.78],[40.75,.6],[40.9,.7],[41.05,.62],[41.2,.68],[41.35,.6],[41.5,.62],[41.7,.55],[41.9,.58],[42.1,.5],[42.3,.48],[42.5,.45],[42.7,.48],[42.9,.4],[43.1,.42],[43.3,.38],[43.5,.3],[43.7,.25],[43.9,.2],[44.1,.15],[44.3,.2],[44.5,.14],[44.7,.18],[44.9,.13],[45.1,.17],[45.3,.16],[45.5,.18],[45.65,.22],[45.8,.9],[45.9,1.8],[45.96,2.0],[46.03,1.6],[46.1,.8],[46.22,.4],[46.35,.45],[46.6,.4],[47.0,.36],[47.4,.32],[47.8,.28],[48.2,.27],[48.6,.24],[49.0,.25],[49.4,.24],[49.7,.27],[50.0,.28]];
const A2_BLUE2: Pt[] = [[28.25,.02],[28.6,.02],[29.0,.02],[29.3,.03],[29.6,.02],[29.9,.03],[30.2,.02],[30.5,.03],[30.8,.03],[31.2,.05],[31.5,.03],[31.85,.05],[32.05,.13],[32.18,.2],[32.35,.07],[32.7,.04],[33.0,.05],[33.25,.11],[33.38,.13],[33.55,.05],[33.9,.04],[34.2,.05],[34.5,.06],[34.7,.08],[34.9,.05],[35.08,.28],[35.17,.52],[35.27,.13],[35.45,.07],[35.58,.4],[35.66,.72],[35.75,.2],[35.95,.07],[36.2,.12],[36.35,.09],[36.55,.05],[36.8,.08],[36.95,.12],[37.05,.33],[37.15,.08],[37.35,.1],[37.5,.18],[37.65,.1],[37.8,.2],[37.95,.25],[38.1,.18],[38.3,.28],[38.45,.2],[38.6,.35],[38.75,.45],[38.88,1.3],[38.98,.5],[39.1,.08],[39.25,.15],[39.4,.25],[39.55,.25],[39.7,.3],[39.85,.3],[40.0,.4],[40.2,.35],[40.4,.45],[40.6,.5],[40.8,.48],[41.0,.45],[41.2,.42],[41.4,.4],[41.6,.38],[41.8,.36],[42.0,.34],[42.2,.25],[42.4,.22],[42.6,.24],[42.8,.25],[43.0,.24],[43.2,.26],[43.4,.22],[43.6,.12],[43.9,.08],[44.2,.07],[44.5,.07],[44.8,.06],[45.1,.06],[45.4,.07],[45.65,.1],[45.82,.4],[45.95,.68],[46.05,.4],[46.15,.15],[46.3,.16],[46.6,.18],[47.0,.16],[47.4,.13],[47.8,.11],[48.2,.1],[48.6,.12],[49.0,.15],[49.4,.17],[49.7,.19],[50.0,.2]];

// Axis ticks
const TOP_X_TICKS = [5, 10, 15, 20];
const TOP_Y_TICKS = [0, 0.5, 1, 1.5, 2, 2.5];
const BOTTOM_X_TICKS = [30, 35, 40, 45, 50];
const BOTTOM_Y_TICKS = [0, 0.5, 1, 1.5, 2, 2.5, 3];

// Table text
const COLUMN_HEADERS = ['Before', 'After'];
const ROW_HEADERS = ['Zoom-in1', 'Zoom-in2'];

const LINE_COLORS = ['#0072BD', '#D95319', '#EDB120', '#7E2F8E', '#77AC30', '#4DBEEE', '#A2142F', '#0072BD'];

const AXIS_COLOR = '#262626';
const TICK_FONT = { family: '"Liberation Sans", Arial, Helvetica, sans-serif', size: 15 };

// margins around the plot box inside each canvas
const PAD_L = 55;
const PAD_T = 30;
const PAD_R = 25;
const PAD_B = 25;

interface PanelSpec {
  key: string;
  left: number;
  top: number;
  width: number;
  height: number;
  xMin: number;
  xMax: number;
  yMin: number;
  yMax: number;
  xTicks: number[];
  yTicks: number[];
  series: Pt[][];
}

const PANELS: PanelSpec[] = [
  { key: 'b1', left: 180, top: 70, width: 302, height: 238, xMin: 1.41, xMax: 20, yMin: -0.29, yMax: 2.99, xTicks: TOP_X_TICKS, yTicks: TOP_Y_TICKS,
    series: [B1_BLUE, B1_ORANGE, B1_YELLOW, B1_PURPLE, B1_GREEN, B1_LBLUE, B1_DRED, B1_BLUE2] },
  { key: 'a1', left: 571, top: 70, width: 301, height: 238, xMin: 1.15, xMax: 20, yMin: -0.29, yMax: 2.99, xTicks: TOP_X_TICKS, yTicks: TOP_Y_TICKS,
    series: [A1_BLUE, A1_ORANGE, A1_YELLOW, A1_PURPLE, A1_GREEN, A1_LBLUE, A1_DRED, A1_BLUE2] },
  { key: 'b2', left: 181, top: 360, width: 302, height: 237, xMin: 27.95, xMax: 50, yMin: -0.08, yMax: 3.3, xTicks: BOTTOM_X_TICKS, yTicks: BOTTOM_Y_TICKS,
    series: [B2_BLUE, B2_ORANGE, B2_YELLOW, B2_PURPLE, B2_GREEN, B2_LBLUE, B2_DRED, B2_BLUE2] },
  { key: 'a2', left: 572, top: 359, width: 302, height: 238, xMin: 28.25, xMax: 50, yMin: -0.08, yMax: 3.29, xTicks: BOTTOM_X_TICKS, yTicks: BOTTOM_Y_TICKS,
    series: [A2_BLUE, A2_ORANGE, A2_YELLOW, A2_PURPLE, A2_GREEN, A2_LBLUE, A2_DRED, A2_BLUE2] },
];

// Box around the plot, inward tick marks on all four sides, and the ×10^6 exponent.
const boxPlugin = {
  id: 'matlabBox',
  afterDatasetsDraw(chart: any) {
    const { ctx, chartArea: a, scales } = chart;
    const l = Math.round(a.left) + 0.5;
    const r = Math.round(a.right) - 0.5;
    const t = Math.round(a.top) + 0.5;
    const b = Math.round(a.bottom) - 0.5;
    ctx.save();
    ctx.strokeStyle = AXIS_COLOR;
    ctx.lineWidth = 1;
    ctx.strokeRect(l, t, r - l, b - t);
    ctx.beginPath();
    const tl = 3;
    for (const tk of scales.x.ticks) {
      const px = Math.round(scales.x.getPixelForValue(tk.value)) + 0.5;
      ctx.moveTo(px, b); ctx.lineTo(px, b - tl);
      ctx.moveTo(px, t); ctx.lineTo(px, t + tl);
    }
    for (const tk of scales.y.ticks) {
      const py = Math.round(scales.y.getPixelForValue(tk.value)) + 0.5;
      ctx.moveTo(l, py); ctx.lineTo(l + tl, py);
      ctx.moveTo(r, py); ctx.lineTo(r - tl, py);
    }
    ctx.stroke();

    ctx.fillStyle = AXIS_COLOR;
    ctx.textBaseline = 'alphabetic';
    ctx.textAlign = 'left';
    let x = a.left - 2;
    const base = a.top - 2;
    ctx.font = '15px "Liberation Sans", Arial, sans-serif';
    ctx.fillText('\u00d7', x, base);
    x += ctx.measureText('\u00d7').width;
    ctx.font = '15px "Liberation Sans", Arial, sans-serif';
    ctx.fillText('10', x, base);
    x += ctx.measureText('10').width + 0.5;
    ctx.font = '10px "Liberation Sans", Arial, sans-serif';
    ctx.fillText('6', x, base - 7);
    ctx.restore();
  },
};

function Panel({ spec }: { spec: PanelSpec }) {
  const ref = useRef<HTMLCanvasElement | null>(null);
  const cw = spec.width + PAD_L + PAD_R;
  const ch = spec.height + PAD_T + PAD_B;

  useEffect(() => {
    const canvas = ref.current;
    if (!canvas) return;
    // later traces sit on top, so feed them to Chart.js first
    const datasets = spec.series
      .map((pts, i) => ({
        data: pts.map(([x, y]) => ({ x, y })),
        borderColor: LINE_COLORS[i],
        backgroundColor: LINE_COLORS[i],
        borderWidth: 1.4,
        pointRadius: 0,
        tension: 0,
        fill: false,
      }))
      .reverse();

    const chart = new Chart(canvas, {
      type: 'line',
      data: { datasets },
      options: {
        animation: false,
        responsive: false,
        events: [],
        layout: { padding: { top: PAD_T, right: PAD_R, left: 0, bottom: 0 } },
        plugins: { legend: { display: false }, tooltip: { enabled: false } },
        scales: {
          x: {
            type: 'linear',
            min: spec.xMin,
            max: spec.xMax,
            grid: { display: false, drawTicks: false },
            border: { display: false },
            afterBuildTicks: (s: any) => { s.ticks = spec.xTicks.map((v) => ({ value: v })); },
            afterFit: (s: any) => { s.height = PAD_B; },
            ticks: { font: TICK_FONT, color: AXIS_COLOR, padding: 3, maxRotation: 0, autoSkip: false, callback: (v: any) => String(v) },
          },
          y: {
            type: 'linear',
            min: spec.yMin,
            max: spec.yMax,
            grid: { display: false, drawTicks: false },
            border: { display: false },
            afterBuildTicks: (s: any) => { s.ticks = spec.yTicks.map((v) => ({ value: v })); },
            afterFit: (s: any) => { s.width = PAD_L; },
            ticks: { font: TICK_FONT, color: AXIS_COLOR, padding: 9, autoSkip: false, callback: (v: any) => String(v) },
          },
        },
      } as any,
      plugins: [boxPlugin],
    });
    return () => chart.destroy();
  }, [spec]);

  return (
    <canvas
      ref={ref}
      width={cw}
      height={ch}
      style={{ position: 'absolute', left: spec.left - PAD_L, top: spec.top - PAD_T, width: cw, height: ch }}
    />
  );
}

const RULE = '#303030';
const serif = '"Liberation Serif", "Times New Roman", Times, serif';

function HLine({ top }: { top: number }) {
  return <div style={{ position: 'absolute', left: 8, top, width: 881, height: 2, background: RULE }} />;
}
function VLine({ left }: { left: number }) {
  return <div style={{ position: 'absolute', left, top: 10, width: 2, height: 608, background: RULE }} />;
}

export default function App() {
  const textStyle: any = { position: 'absolute', fontFamily: serif, fontSize: 23, lineHeight: '23px', color: '#1a1a1a', whiteSpace: 'nowrap' };
  return (
    <div style={{ position: 'absolute', left: 0, top: 0, width: 889, height: 618, overflow: 'hidden', background: '#fff' }}>
      <HLine top={10} />
      <HLine top={42} />
      <HLine top={331} />
      <VLine left={8} />
      <VLine left={127} />
      <VLine left={518} />
      <div style={{ ...textStyle, left: 128, width: 406, top: 15, textAlign: 'center' }}>{COLUMN_HEADERS[0]}</div>
      <div style={{ ...textStyle, left: 519, width: 404, top: 15, textAlign: 'center' }}>{COLUMN_HEADERS[1]}</div>
      <div style={{ ...textStyle, left: 27, top: 303 }}>{ROW_HEADERS[0]}</div>
      <div style={{ ...textStyle, left: 27, top: 592 }}>{ROW_HEADERS[1]}</div>
      {PANELS.map((p) => (
        <Panel key={p.key} spec={p} />
      ))}
    </div>
  );
}
